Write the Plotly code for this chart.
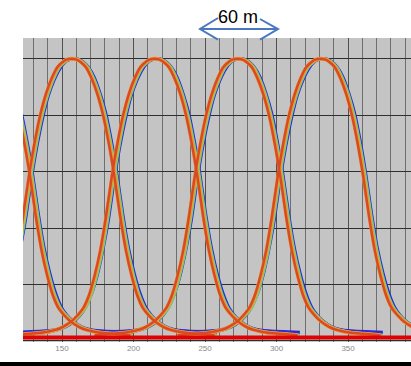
import plotly.graph_objects as go

# ---- data ----
peak_centers = [98, 157, 215, 273, 331]          # metres
offsets = [-100, -88, -78, -70, -64, -58, -54, -50, -46, -42, -38, -34, -30, -26, -22, -18, -14, -10, -6, -3,
           0, 3, 6, 10, 14, 18, 22, 26, 30, 34, 38, 42, 46, 50, 54, 58, 64, 70, 78, 88, 100]
main_profile = [0.02, 0.025, 0.03, 0.038, 0.05, 0.07, 0.09, 0.115, 0.16, 0.23, 0.32, 0.44, 0.58, 0.70, 0.80,
                0.875, 0.93, 0.97, 0.99, 0.998,
                1.0, 0.998, 0.99, 0.97, 0.93, 0.875, 0.80, 0.70, 0.58, 0.44, 0.32, 0.23, 0.16, 0.115, 0.09,
                0.07, 0.05, 0.038, 0.03, 0.025, 0.02]
blue_profile = [0.03, 0.032, 0.035, 0.04, 0.05, 0.07, 0.09, 0.12, 0.165, 0.23, 0.32, 0.43, 0.57, 0.69, 0.79,
                0.87, 0.925, 0.965, 0.99, 0.998,
                1.0, 0.998, 0.99, 0.97, 0.935, 0.88, 0.81, 0.71, 0.59, 0.45, 0.33, 0.24, 0.17, 0.12, 0.09,
                0.07, 0.05, 0.04, 0.035, 0.032, 0.03]
series_names = ["blue", "purple", "green", "orange", "red"]
series_colors = ["#2a2ad8", "#7a2a8a", "#74d074", "#f29a30", "#d84a26"]
series_shift = [1.3, 0.6, 1.2, 0.0, -0.3]       # metres
series_width = [3.5, 3.5, 3, 4, 2.5]
baseline_x = [120, 400]
baseline_y = [0.012, 0.012]
tick_vals = [150, 200, 250, 300, 350]
tick_text = ["150", "200", "250", "300", "350"]

fig = go.Figure()
for name, col, sh, w in zip(series_names, series_colors, series_shift, series_width):
    prof = blue_profile if name == "blue" else main_profile
    for c in peak_centers:
        fig.add_trace(go.Scatter(
            x=[c + sh + o for o in offsets], y=prof, mode="lines",
            line=dict(color=col, width=w, shape="spline", smoothing=0.6),
            showlegend=False, hoverinfo="skip"))

fig.add_trace(go.Scatter(x=baseline_x, y=baseline_y, mode="lines",
                         line=dict(color="#e00000", width=4), showlegend=False, hoverinfo="skip"))

fig.update_layout(
    width=411, height=366,
    margin=dict(l=23, r=0, t=38, b=24),
    paper_bgcolor="white", plot_bgcolor="#c4c4c4",
    xaxis=dict(range=[122.7, 394], tickmode="array", tickvals=tick_vals, ticktext=tick_text,
               showgrid=True, gridcolor="#505050", gridwidth=1,
               minor=dict(dtick=10, tick0=0, showgrid=True, gridcolor="#6e6e6e", gridwidth=1),
               zeroline=False, showline=False, ticks="",
               tickfont=dict(size=8, color="#8a8a8a", family="Liberation Sans")),
    yaxis=dict(range=[-0.004, 1.074], dtick=0.2, tick0=0, showgrid=True, gridcolor="#2e2e2e",
               gridwidth=1, zeroline=False, showticklabels=False, ticks=""),
    shapes=[
        # double arrow
        dict(type="line", xref="paper", yref="paper", x0=0.4562, x1=0.6572, y0=1.0296, y1=1.0296,
             line=dict(color="#4a78c0", width=2)),
        dict(type="path", xref="paper", yref="paper",
             path="M 0.5026,1.0658 L 0.4562,1.0296 L 0.5026,0.995", line=dict(color="#4a78c0", width=2)),
        dict(type="path", xref="paper", yref="paper",
             path="M 0.6108,1.0625 L 0.6572,1.0296 L 0.6108,0.995", line=dict(color="#4a78c0", width=2)),
        # black band at the bottom
        dict(type="rect", xref="paper", yref="paper", x0=-0.06, x1=1.0, y0=-0.079, y1=-0.066,
             fillcolor="black", line=dict(width=0)),
    ],
    annotations=[dict(text="60 m", xref="paper", yref="paper", x=0.554, y=1.069, showarrow=False,
                      font=dict(size=18, color="black", family="Liberation Sans"),
                      xanchor="center", yanchor="middle")],
)

fig.write_html("out.html", config={"displayModeBar": False},
               post_script="document.body.style.margin='0';document.body.style.overflow='hidden';")
